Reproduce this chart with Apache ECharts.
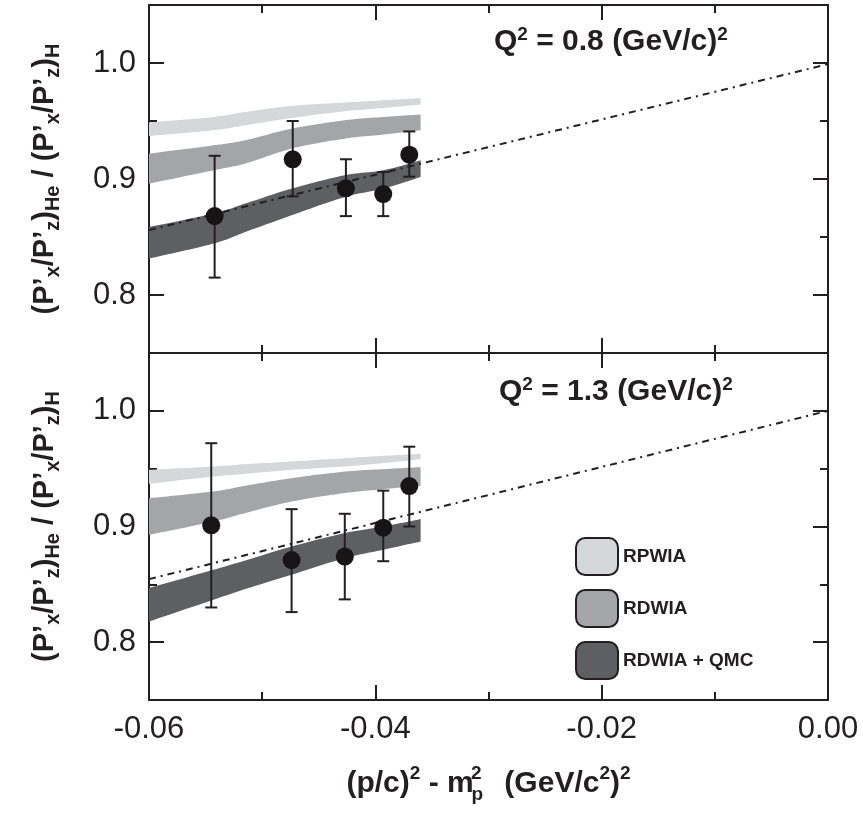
<!DOCTYPE html>
<html><head><meta charset="utf-8">
<script src="https://cdn.jsdelivr.net/npm/echarts@6/dist/echarts.min.js"></script>
<style>html,body{margin:0;padding:0;background:#fff}#c{width:863px;height:814px}</style>
</head><body><div id="c"></div>
<script>
// ---------- data ----------
const xTickLabels = [-0.06, -0.04, -0.02, 0.00];
const yMajorTicks = [0.8, 0.9, 1.0];
const yMinorTicks = [0.85, 0.95];

// Q^2 = 0.8 (top panel) data points
const q08X  = [-0.0542, -0.0473, -0.0426, -0.0393, -0.0370];
const q08Y  = [0.868, 0.917, 0.892, 0.887, 0.921];
const q08Lo = [0.815, 0.885, 0.868, 0.868, 0.902];
const q08Hi = [0.920, 0.950, 0.917, 0.906, 0.941];

// Q^2 = 1.3 (bottom panel) data points
const q13X  = [-0.0545, -0.0474, -0.0427, -0.0393, -0.0370];
const q13Y  = [0.901, 0.871, 0.874, 0.899, 0.935];
const q13Lo = [0.830, 0.826, 0.837, 0.870, 0.900];
const q13Hi = [0.972, 0.915, 0.911, 0.931, 0.969];

// theory bands (x positions shared)
const bandX = [-0.0600, -0.0543, -0.0515, -0.0474, -0.0427, -0.0393, -0.0360];
const q08RpwiaLo = [0.9371, 0.9420, 0.9463, 0.9526, 0.9584, 0.9612, 0.9641];
const q08RpwiaHi = [0.9486, 0.9535, 0.9578, 0.9630, 0.9659, 0.9678, 0.9698];
const q08RdwiaLo = [0.8960, 0.9075, 0.9133, 0.9262, 0.9348, 0.9383, 0.9420];
const q08RdwiaHi = [0.9219, 0.9290, 0.9334, 0.9434, 0.9506, 0.9535, 0.9555];
const q08QmcLo   = [0.8314, 0.8443, 0.8543, 0.8687, 0.8845, 0.8917, 0.9017];
const q08QmcHi   = [0.8586, 0.8702, 0.8788, 0.8917, 0.9032, 0.9075, 0.9161];

const q13RpwiaLo = [0.9369, 0.9432, 0.9455, 0.9490, 0.9519, 0.9548, 0.9583];
const q13RpwiaHi = [0.9490, 0.9519, 0.9539, 0.9562, 0.9591, 0.9611, 0.9628];
const q13RdwiaLo = [0.8928, 0.9043, 0.9116, 0.9216, 0.9289, 0.9323, 0.9352];
const q13RdwiaHi = [0.9245, 0.9303, 0.9352, 0.9418, 0.9475, 0.9496, 0.9513];
const q13QmcLo   = [0.8179, 0.8367, 0.8459, 0.8583, 0.8727, 0.8799, 0.8870];
const q13QmcHi   = [0.8468, 0.8626, 0.8706, 0.8827, 0.8943, 0.9000, 0.9064];

// dash-dot reference line
const fitX    = [-0.06, 0.0];
const q08FitY = [0.856, 0.999];
const q13FitY = [0.8545, 1.0];

// ---------- styles ----------
const FONT = '"Liberation Sans", Arial, Helvetica, sans-serif';
const INK = '#231f20';
const C_RPWIA = '#d5d8d8';
const C_RDWIA = '#a3a5a6';
const C_QMC   = '#5e5f62';

const zip3 = (a, b, c) => a.map((v, i) => [v, b[i], c[i]]);
const zip2 = (a, b) => a.map((v, i) => [v, b[i]]);

// Catmull-Rom sampling in pixel space (smooth band edges)
function sampleCurve(pts, k) {
  const out = [];
  for (let i = 0; i < pts.length - 1; i++) {
    const p0 = pts[i - 1] || pts[i], p1 = pts[i], p2 = pts[i + 1], p3 = pts[i + 2] || pts[i + 1];
    const c1 = [p1[0] + (p2[0] - p0[0]) / 6, p1[1] + (p2[1] - p0[1]) / 6];
    const c2 = [p2[0] - (p3[0] - p1[0]) / 6, p2[1] - (p3[1] - p1[1]) / 6];
    for (let s = 0; s < k; s++) {
      const t = s / k, u = 1 - t;
      out.push([
        u*u*u*p1[0] + 3*u*u*t*c1[0] + 3*u*t*t*c2[0] + t*t*t*p2[0],
        u*u*u*p1[1] + 3*u*u*t*c1[1] + 3*u*t*t*c2[1] + t*t*t*p2[1]
      ]);
    }
  }
  out.push(pts[pts.length - 1]);
  return out;
}

function bandRender(color) {
  return function (params, api) {
    if (params.dataIndexInside !== 0) return null;
    const n = params.dataInsideLength;
    const top = [], bot = [];
    for (let j = 0; j < n; j++) {
      const x = api.value(0, j);
      top.push(api.coord([x, api.value(2, j)]));
      bot.push(api.coord([x, api.value(1, j)]));
    }
    const pts = sampleCurve(top, 12).concat(sampleCurve(bot.reverse(), 12));
    return { type: 'polygon', shape: { points: pts }, style: { fill: color } };
  };
}
function errRender(params, api) {
  const x = api.value(0);
  const p1 = api.coord([x, api.value(2)]);
  const p2 = api.coord([x, api.value(1)]);
  const cw = 6;
  const st = { stroke: INK, lineWidth: 2 };
  return { type: 'group', children: [
    { type: 'line', shape: { x1: p1[0], y1: p1[1], x2: p2[0], y2: p2[1] }, style: st },
    { type: 'line', shape: { x1: p1[0] - cw, y1: p1[1], x2: p1[0] + cw, y2: p1[1] }, style: st },
    { type: 'line', shape: { x1: p2[0] - cw, y1: p2[1], x2: p2[0] + cw, y2: p2[1] }, style: st }
  ]};
}

function xAxisCfg(gi, pos, labels, name) {
  return {
    type: 'value', gridIndex: gi, position: pos, min: -0.06, max: 0, interval: 0.02,
    axisLine: { show: true, onZero: false, lineStyle: { color: INK, width: 2 } },
    axisTick: { show: true, inside: true, length: 15, lineStyle: { color: INK, width: 2 } },
    minorTick: { show: true, splitNumber: 2, length: 8, lineStyle: { color: INK, width: 2 } },
    splitLine: { show: false }, minorSplitLine: { show: false },
    axisLabel: { show: labels, fontSize: 31, fontFamily: FONT, color: INK, margin: 14,
      formatter: v => v.toFixed(2) },
    name: name || '', nameLocation: 'middle', nameGap: 64,
    nameTextStyle: { rich: {
      m: { fontSize: 30, fontWeight: 'bold', fontFamily: FONT, color: INK, lineHeight: 40 },
      s: { fontSize: 19, fontWeight: 'bold', fontFamily: FONT, color: INK, verticalAlign: 'top', lineHeight: 22 },
      q: { fontSize: 19, fontWeight: 'bold', fontFamily: FONT, color: INK, verticalAlign: 'top', lineHeight: 22, width: 1, padding: [0, 0, 0, 2] },
      p: { fontSize: 19, fontWeight: 'bold', fontFamily: FONT, color: INK, verticalAlign: 'bottom', lineHeight: 14, width: 1, padding: [0, 10, 0, 0] }
    } }
  };
}
const yTitle = '{m|(P’}{s|x}{m|/P’}{s|z}{m|)}{s|He}{m| / (P’}{s|x}{m|/P’}{s|z}{m|)}{s|H}';
function yAxisCfg(gi, pos, major, labels, name) {
  return {
    type: 'value', gridIndex: gi, position: pos, min: 0.75, max: 1.05,
    axisLine: { show: major, onZero: false, lineStyle: { color: INK, width: 2 } },
    axisTick: { show: true, inside: true, length: major ? 15 : 8,
      customValues: major ? yMajorTicks : yMinorTicks, lineStyle: { color: INK, width: 2 } },
    splitLine: { show: false },
    axisLabel: { show: labels, customValues: yMajorTicks, fontSize: 31, fontFamily: FONT, color: INK, margin: 13,
      formatter: v => v.toFixed(1) },
    name: name ? yTitle : '', nameLocation: 'middle', nameRotate: 90, nameGap: 86,
    nameTextStyle: { rich: {
      m: { fontSize: 29, fontWeight: 'bold', fontFamily: FONT, color: INK, lineHeight: 36 },
      s: { fontSize: 20, fontWeight: 'bold', fontFamily: FONT, color: INK, verticalAlign: 'bottom', lineHeight: 16 }
    } }
  };
}

function panelSeries(gi, pts, bands, fitY) {
  const xi = gi * 2, yi = gi * 4;
  return [
    { type: 'custom', name: 'RPWIA', xAxisIndex: xi, yAxisIndex: yi, renderItem: bandRender(C_RPWIA),
      itemStyle: { color: C_RPWIA }, encode: { x: 0, y: [1, 2] }, data: zip3(bandX, bands[0], bands[1]), z: 1, silent: true },
    { type: 'custom', name: 'RDWIA', xAxisIndex: xi, yAxisIndex: yi, renderItem: bandRender(C_RDWIA),
      itemStyle: { color: C_RDWIA }, encode: { x: 0, y: [1, 2] }, data: zip3(bandX, bands[2], bands[3]), z: 1, silent: true },
    { type: 'custom', name: 'RDWIA + QMC', xAxisIndex: xi, yAxisIndex: yi, renderItem: bandRender(C_QMC),
      itemStyle: { color: C_QMC }, encode: { x: 0, y: [1, 2] }, data: zip3(bandX, bands[4], bands[5]), z: 1, silent: true },
    { type: 'line', name: 'fit', xAxisIndex: xi, yAxisIndex: yi, data: zip2(fitX, fitY), symbol: 'none',
      lineStyle: { color: INK, width: 2, type: [7, 5, 2, 5] }, z: 2, silent: true },
    { type: 'custom', name: 'err', xAxisIndex: xi, yAxisIndex: yi, renderItem: errRender,
      encode: { x: 0, y: [1, 2] }, data: zip3(pts[0], pts[2], pts[3]), z: 3, silent: true },
    { type: 'scatter', name: 'data', xAxisIndex: xi, yAxisIndex: yi, data: zip2(pts[0], pts[1]),
      symbol: 'circle', symbolSize: 18, itemStyle: { color: '#161415', opacity: 1 }, z: 4, silent: true }
  ];
}

const qRich = {
  a: { fontSize: 30, fontWeight: 'bold', fontFamily: FONT, color: INK, lineHeight: 34 },
  b: { fontSize: 19, fontWeight: 'bold', fontFamily: FONT, color: INK, verticalAlign: 'top', lineHeight: 20 }
};

const option = {
  animation: false,
  backgroundColor: '#fff',
  title: [
    { text: '{a|Q}{b|2}{a| = 0.8 (GeV/c)}{b|2}', left: 494, top: 25, padding: 0, textStyle: { rich: qRich } },
    { text: '{a|Q}{b|2}{a| = 1.3 (GeV/c)}{b|2}', left: 499, top: 375, padding: 0, textStyle: { rich: qRich } }
  ],
  legend: {
    orient: 'vertical', left: 570, top: 532, itemWidth: 42, itemHeight: 37, itemGap: 13,
    icon: 'roundRect', selectedMode: false,
    textStyle: { fontSize: 19, fontWeight: 'bold', fontFamily: FONT, color: INK },
    data: [
      { name: 'RPWIA', itemStyle: { color: C_RPWIA, borderColor: INK, borderWidth: 2 } },
      { name: 'RDWIA', itemStyle: { color: C_RDWIA, borderColor: INK, borderWidth: 2 } },
      { name: 'RDWIA + QMC', itemStyle: { color: C_QMC, borderColor: INK, borderWidth: 2 } }
    ]
  },
  grid: [
    { left: 149, top: 5, width: 679, height: 348 },
    { left: 149, top: 353, width: 679, height: 347 }
  ],
  xAxis: [
    xAxisCfg(0, 'bottom', false),
    xAxisCfg(0, 'top', false),
    xAxisCfg(1, 'bottom', true, '{m|(p/c)}{s|2}{m| - m}{q|2}{p|p}{m|  (GeV/c}{s|2}{m|)}{s|2}'),
    xAxisCfg(1, 'top', false)
  ],
  yAxis: [
    yAxisCfg(0, 'left', true, true, true),
    yAxisCfg(0, 'right', true, false, false),
    yAxisCfg(0, 'left', false, false, false),
    yAxisCfg(0, 'right', false, false, false),
    yAxisCfg(1, 'left', true, true, true),
    yAxisCfg(1, 'right', true, false, false),
    yAxisCfg(1, 'left', false, false, false),
    yAxisCfg(1, 'right', false, false, false)
  ],
  series: [].concat(
    panelSeries(0, [q08X, q08Y, q08Lo, q08Hi],
      [q08RpwiaLo, q08RpwiaHi, q08RdwiaLo, q08RdwiaHi, q08QmcLo, q08QmcHi], q08FitY),
    panelSeries(1, [q13X, q13Y, q13Lo, q13Hi],
      [q13RpwiaLo, q13RpwiaHi, q13RdwiaLo, q13RdwiaHi, q13QmcLo, q13QmcHi], q13FitY)
  )
};
const chart = echarts.init(document.getElementById('c'), null, { renderer: 'canvas' });
chart.setOption(option);
</script>
</body></html>
